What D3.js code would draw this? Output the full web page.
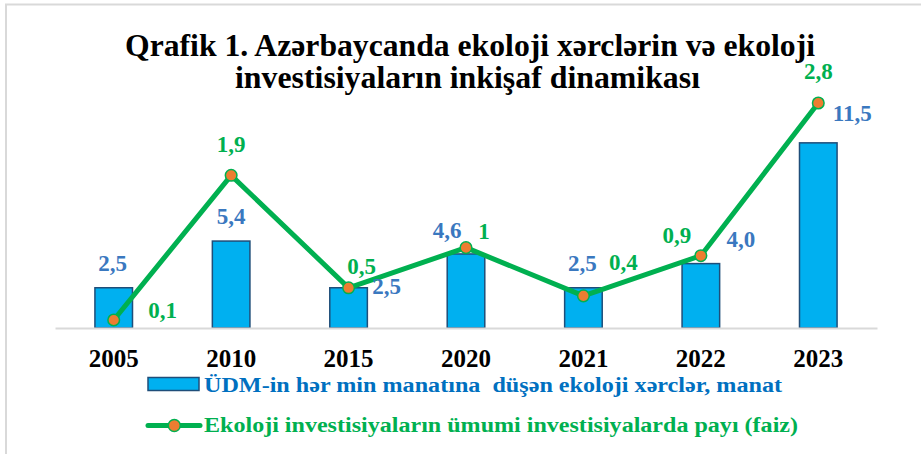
<!DOCTYPE html>
<html>
<head>
    <meta charset="utf-8">
    <title>Qrafik 1</title>
    <script src="https://d3js.org/d3.v7.min.js"></script>
</head>
<body style="margin: 0; padding: 0; background: #fff;">
    <div id="container"></div>

    <script>
        // dados do gráfico
        var years = ["2005", "2010", "2015", "2020", "2021", "2022", "2023"];
        var costPerGdp = [2.5, 5.4, 2.5, 4.6, 2.5, 4.0, 11.5];
        var investShare = [0.1, 1.9, 0.5, 1, 0.4, 0.9, 2.8];
        var barLabels = ["2,5", "5,4", "2,5", "4,6", "2,5", "4,0", "11,5"];
        var lineLabels = ["0,1", "1,9", "0,5", "1", "0,4", "0,9", "2,8"];
        var titleLines = ["Qrafik 1. Azərbaycanda ekoloji xərclərin və ekoloji",
            "investisiyaların inkişaf dinamikası"];
        var legendBar = "ÜDM-in hər min manatına  düşən ekoloji xərclər, manat";
        var legendLine = "Ekoloji investisiyaların ümumi investisiyalarda payı (faiz)";

        // deslocamento dos rótulos [dx, dy]
        var barLabelOffsets = [[-1, -17], [0, -17], [38, 6], [-19, -16], [-1, -17], [40, -17], [34, -22]];
        var lineLabelOffsets = [[49, -2], [0, -23], [13, -14], [18, -9], [40, -26], [-24, -13], [0, -24]];

        var width = 921, height = 454;
        var font = "'Liberation Serif', 'Times New Roman', serif";
        var green = "#00b050", orange = "#ed7d31";

        var svg = d3.select("#container").append("svg")
            .attr("width", width)
            .attr("height", height)
            .style("display", "block");

        // moldura
        svg.append("path")
            .attr("d", "M6,454 V4.5 H921")
            .attr("fill", "none")
            .attr("stroke", "#d9d9d9")
            .attr("stroke-width", 2);

        // título
        svg.selectAll(".title")
            .data(titleLines)
            .enter().append("text")
            .attr("class", "title")
            .attr("x", (d, i) => i == 0 ? 470 : 467.5)
            .attr("y", (d, i) => i == 0 ? 56 : 87.5)
            .attr("text-anchor", "middle")
            .attr("textLength", (d, i) => i == 0 ? 690 : 465)
            .attr("lengthAdjust", "spacingAndGlyphs")
            .style("font-family", font)
            .style("font-size", "32.5px")
            .style("font-weight", "bold")
            .style("fill", "#000")
            .text(d => d);

        var x = d3.scaleBand()
            .domain(years)
            .range([55, 877])
            .paddingInner(0.68)
            .paddingOuter(0.34);

        var y1 = d3.scaleLinear().domain([0, 14]).range([328, 102.6]);
        var y2 = d3.scaleLinear().domain([0, 2.8]).range([328, 103]);

        // barras
        svg.selectAll(".bar")
            .data(years)
            .enter().append("rect")
            .attr("class", "bar")
            .attr("x", d => x(d))
            .attr("y", (d, i) => y1(costPerGdp[i]))
            .attr("width", x.bandwidth())
            .attr("height", (d, i) => y1(0) - y1(costPerGdp[i]))
            .style("fill", "#00b0f0")
            .style("stroke", "#1f4e79")
            .style("stroke-width", 1.5);

        // eixo x
        var axis = svg.append("g")
            .attr("transform", "translate(0,328)")
            .call(d3.axisBottom(x).tickSize(0).tickPadding(21));
        axis.select(".domain")
            .attr("stroke", "#d9d9d9")
            .attr("stroke-width", 2);
        axis.selectAll("text")
            .style("font-family", font)
            .style("font-size", "25px")
            .style("font-weight", "bold")
            .style("fill", "#000");

        // linha
        var line = d3.line()
            .x((d, i) => x(years[i]) + x.bandwidth() / 2)
            .y(d => y2(d));

        svg.append("path")
            .datum(investShare)
            .attr("d", line)
            .attr("fill", "none")
            .attr("stroke", green)
            .attr("stroke-width", 5)
            .attr("stroke-linejoin", "round");

        svg.selectAll(".dot")
            .data(investShare)
            .enter().append("circle")
            .attr("cx", (d, i) => x(years[i]) + x.bandwidth() / 2)
            .attr("cy", d => y2(d))
            .attr("r", 5.8)
            .style("fill", orange)
            .style("stroke", green)
            .style("stroke-width", 1.5);

        // rótulos das barras
        svg.selectAll(".barLabel")
            .data(barLabels)
            .enter().append("text")
            .attr("x", (d, i) => x(years[i]) + x.bandwidth() / 2 + barLabelOffsets[i][0])
            .attr("y", (d, i) => y1(costPerGdp[i]) + barLabelOffsets[i][1])
            .attr("text-anchor", "middle")
            .style("font-family", font)
            .style("font-size", "23px")
            .style("font-weight", "bold")
            .style("fill", "#3a78bf")
            .text(d => d);

        // rótulos da linha
        svg.selectAll(".lineLabel")
            .data(lineLabels)
            .enter().append("text")
            .attr("x", (d, i) => x(years[i]) + x.bandwidth() / 2 + lineLabelOffsets[i][0])
            .attr("y", (d, i) => y2(investShare[i]) + lineLabelOffsets[i][1])
            .attr("text-anchor", "middle")
            .style("font-family", font)
            .style("font-size", "23px")
            .style("font-weight", "bold")
            .style("fill", green)
            .text(d => d);

        // legenda
        var legend = svg.append("g");
        legend.append("rect")
            .attr("x", 148)
            .attr("y", 377.5)
            .attr("width", 51)
            .attr("height", 13)
            .style("fill", "#00b0f0")
            .style("stroke", "#1f4e79")
            .style("stroke-width", 1.5);
        legend.append("text")
            .attr("x", 204)
            .attr("y", 391.5)
            .attr("textLength", 578)
            .attr("lengthAdjust", "spacingAndGlyphs")
            .style("white-space", "pre")
            .style("font-family", font)
            .style("font-size", "20.5px")
            .style("font-weight", "bold")
            .style("fill", "#0070c0")
            .text(legendBar);

        legend.append("line")
            .attr("x1", 148).attr("x2", 200)
            .attr("y1", 425.5).attr("y2", 425.5)
            .attr("stroke", green)
            .attr("stroke-width", 5)
            .attr("stroke-linecap", "round");
        legend.append("circle")
            .attr("cx", 174.3)
            .attr("cy", 425.5)
            .attr("r", 6)
            .style("fill", orange)
            .style("stroke", green)
            .style("stroke-width", 1.5);
        legend.append("text")
            .attr("x", 204)
            .attr("y", 431.5)
            .attr("textLength", 594)
            .attr("lengthAdjust", "spacingAndGlyphs")
            .style("font-family", font)
            .style("font-size", "20.5px")
            .style("font-weight", "bold")
            .style("fill", green)
            .text(legendLine);
    </script>
</body>
</html>
